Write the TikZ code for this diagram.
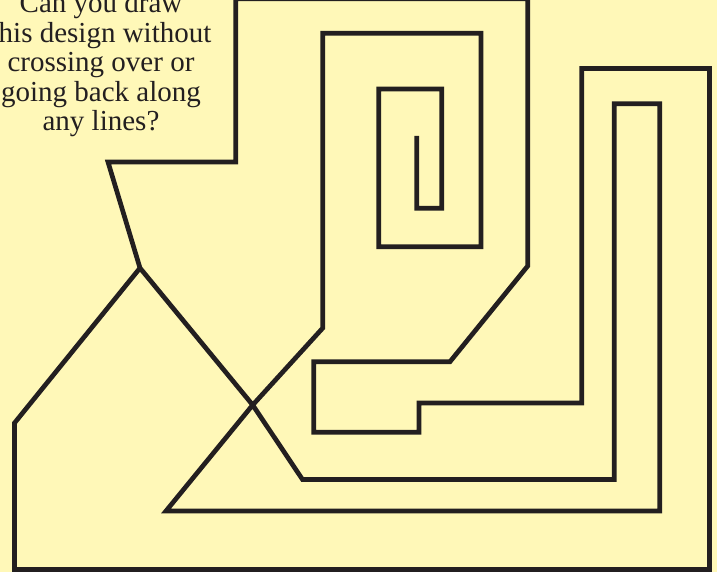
\documentclass[tikz,border=0pt]{standalone}
\usepackage{fontspec}
\setmainfont{Liberation Serif}
\definecolor{bgyellow}{RGB}{255,248,184}
\definecolor{ink}{RGB}{35,31,32}
\begin{document}
\begin{tikzpicture}[x=1pt,y=-1pt,
  maze/.style={draw=ink,line width=4.7pt,line join=miter,line cap=butt},
  txt/.style={anchor=base,inner sep=0pt,text=ink,font=\fontsize{29}{30}\selectfont}]
\fill[bgyellow] (0,0) rectangle (717,572);
\useasboundingbox (0,0) rectangle (717,572);
% text
\node[txt] (t1) at (101,12.7) {Can you draw};
\node[txt] (t2) at (101,42.2) {this design without};
\node[txt] (t3) at (101,71.7) {crossing over or};
\node[txt] (t4) at (101,101.2) {going back along};
\node[txt] (t5) at (101,130.7) {any lines?};
% key points
\coordinate (J) at (140,268);
\coordinate (X) at (252.7,405);
\coordinate (s0) at (416.7,136);
\coordinate (s1) at (416.7,208.3);
\coordinate (s2) at (441.7,208.3);
\coordinate (s3) at (441.7,89);
\coordinate (s4) at (378.7,89);
\coordinate (s5) at (378.7,246.7);
\coordinate (s6) at (481,246.7);
\coordinate (s7) at (481,33.3);
\coordinate (s8) at (322.8,33.3);
\coordinate (s9) at (322.8,328);
\coordinate (b1) at (166,511);
\coordinate (b2) at (659.7,511);
\coordinate (b3) at (659.7,103.7);
\coordinate (b4) at (614.3,103.7);
\coordinate (b5) at (614.3,479.5);
\coordinate (b6) at (302.5,479.5);
\coordinate (o1) at (14.5,423);
\coordinate (o2) at (14.5,569.5);
\coordinate (o3) at (709.5,569.5);
\coordinate (o4) at (709.5,68.5);
\coordinate (o5) at (581.7,68.5);
\coordinate (o6) at (581.7,403);
\coordinate (o7) at (419,403);
\coordinate (o8) at (419,432.3);
\coordinate (o9) at (313.7,432.3);
\coordinate (o10) at (313.7,361.7);
\coordinate (o11) at (450,361.7);
\coordinate (o12) at (527.7,266);
\coordinate (o13) at (527.7,-1.3);
\coordinate (o14) at (235.7,-1.3);
\coordinate (o15) at (235.7,162);
\coordinate (o16) at (108,162);
% the figure: one continuous line
\draw[maze] (s0) -- (s1) -- (s2) -- (s3) -- (s4) -- (s5) -- (s6) -- (s7) -- (s8) -- (s9)
  -- (X) -- (b1) -- (b2) -- (b3) -- (b4) -- (b5) -- (b6) -- (X) -- (J)
  -- (o1) -- (o2) -- (o3) -- (o4) -- (o5) -- (o6) -- (o7) -- (o8) -- (o9) -- (o10)
  -- (o11) -- (o12) -- (o13) -- (o14) -- (o15) -- (o16) -- (J);
\end{tikzpicture}
\end{document}
